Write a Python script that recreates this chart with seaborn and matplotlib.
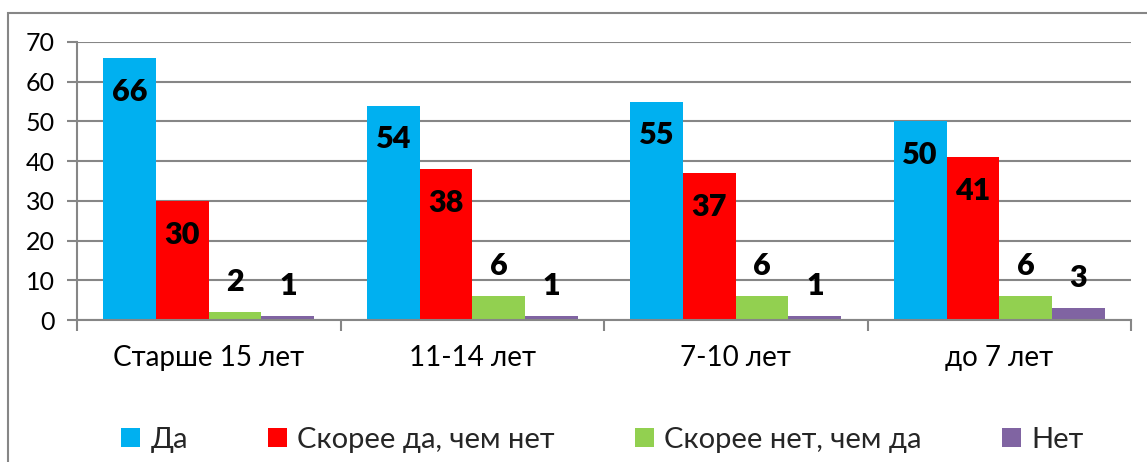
import pandas as pd
import matplotlib.pyplot as plt
import seaborn as sns
from matplotlib.patches import Rectangle

# data
groups = ["Старше 15 лет", "11-14 лет", "7-10 лет", "до 7 лет"]
answers = ["Да", "Скорее да, чем нет", "Скорее нет, чем да", "Нет"]
da = [66, 54, 55, 50]
skoree_da = [30, 38, 37, 41]
skoree_net = [2, 6, 6, 6]
net = [1, 1, 1, 3]
colors = ["#00B0F0", "#FF0000", "#92D050", "#8064A2"]

rows = []
for ans, vals in zip(answers, [da, skoree_da, skoree_net, net]):
    for g, v in zip(groups, vals):
        rows.append({"group": g, "answer": ans, "value": v})
df = pd.DataFrame(rows)

sns.set_theme(style="white")
plt.rcParams['font.family'] = ['Lato', 'Open Sans', 'DejaVu Sans']

fig = plt.figure(figsize=(11.47, 4.62), dpi=100)
ax = fig.add_axes([77/1147, 1 - 320/462, (1131 - 77)/1147, (320 - 42)/462])

sns.barplot(data=df, x="group", y="value", hue="answer", order=groups,
            hue_order=answers, palette=colors, saturation=1, width=0.8,
            edgecolor="none", linewidth=0, ax=ax, legend=True)

ax.set_ylim(0, 70)
ax.set_xlim(-0.5, len(groups) - 0.5)
ax.set_yticks(range(0, 71, 10))
ax.yaxis.grid(True, color="#868686", linewidth=1.5)
ax.set_axisbelow(True)
ax.set_xlabel("")
ax.set_ylabel("")
for side in ["top", "right"]:
    ax.spines[side].set_visible(False)
for side in ["left", "bottom"]:
    ax.spines[side].set_color("#868686")
    ax.spines[side].set_linewidth(1.5)

ax.tick_params(axis="y", labelsize=18, colors="#868686", labelcolor="black",
               length=7, width=1.5, left=True, pad=9)
ax.tick_params(axis="x", which="major", labelsize=20, length=0, pad=18,
               labelcolor="black")
ax.set_xticks([i - 0.5 for i in range(len(groups) + 1)], minor=True)
ax.tick_params(axis="x", which="minor", length=8, width=1.5, color="#868686",
               bottom=True)

# value labels: inside the top of tall bars, above short ones
for cont in ax.containers:
    for bar in cont:
        h = bar.get_height()
        y = h - 8.5 if h >= 20 else h + 7.5
        ax.text(bar.get_x() + bar.get_width() / 2, y, f"{int(h)}",
                ha="center", va="center", fontsize=22, fontweight="heavy",
                color="black")

handles, labels = ax.get_legend_handles_labels()
ax.get_legend().remove()
fig.legend(handles, labels, loc="center", bbox_to_anchor=(0.525, 1 - 440/462),
           ncol=4, frameon=False, fontsize=21, handlelength=0.65,
           handleheight=0.65, handletextpad=0.35, columnspacing=2.75)

# chart frame (cut off on the right and bottom like the source)
fig.patches.append(Rectangle((8/1147, -0.1), 1.2, 1 - 13/462 + 0.1,
                             transform=fig.transFigure, fill=False,
                             edgecolor="#868686", linewidth=1.5))

fig.savefig("out.png", dpi=100)
